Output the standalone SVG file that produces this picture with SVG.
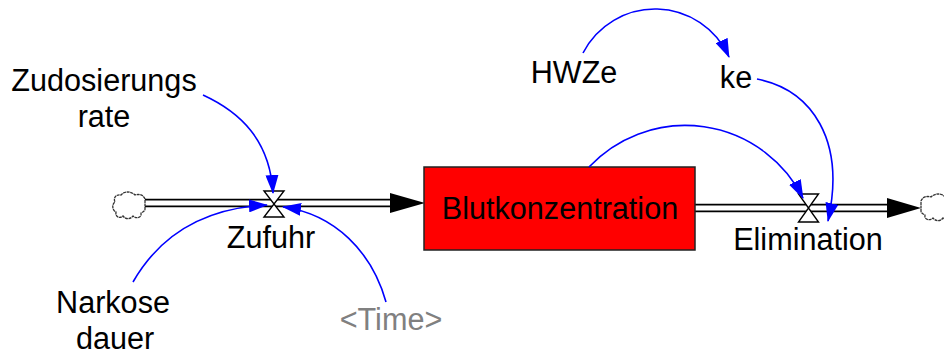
<svg xmlns="http://www.w3.org/2000/svg" width="944" height="356" viewBox="0 0 944 356">
<defs>
<style>
.lbl{font-family:"Liberation Sans",Arial,sans-serif;font-size:30.6px;fill:#000;text-anchor:middle}
.gray{fill:#808080}
.link{fill:none;stroke:#0000FF;stroke-width:1.6}
.pipeO{fill:none;stroke:#000;stroke-width:8.5}
.pipeI{fill:none;stroke:#fff;stroke-width:5}
.valve{fill:#fff;stroke:#000;stroke-width:1.4}
.cloud{fill:#fff;stroke:#333;stroke-width:1.3;stroke-dasharray:3 0.6}
</style>
<marker id="ah" viewBox="0 0 19 13" refX="18" refY="6.5" markerWidth="19" markerHeight="13" orient="auto" markerUnits="userSpaceOnUse"><path d="M0,0 L19,6.5 L0,13 z" fill="#0000FF"/></marker>
<path id="cl" d="M0,-7 C-2,-12 -7,-12 -10,-11 C-14,-15 -21,-15 -24,-11 C-29,-12 -32,-8 -30,-4 C-34,-1 -32,5 -29,6 C-30,11 -25,13 -22,10 C-19,14 -14,13 -12,10 C-9,13 -3,12 -4,7 C-2,6 0,5 0,3 Z"/>
</defs>
<rect width="944" height="356" fill="#fff"/>
<g id="flows">
<line class="pipeO" x1="145" y1="203" x2="392" y2="203"/>
<line class="pipeI" x1="144" y1="203" x2="392" y2="203"/>
<polygon points="390,193 425,203 390,213" fill="#000"/>
<line class="pipeO" x1="695" y1="208" x2="889" y2="208"/>
<line class="pipeI" x1="694" y1="208" x2="889" y2="208"/>
<polygon points="887,198 921,208 887,218" fill="#000"/>
</g>
<g id="cloud-left"><use href="#cl" class="cloud" transform="translate(145,206)"/></g>
<g id="cloud-right"><use href="#cl" class="cloud" transform="translate(921,208) scale(-1,1)"/></g>
<g id="Blutkonzentration">
<rect x="424" y="167" width="271" height="83" fill="#FF0000" stroke="#222" stroke-width="1.5"/>
<text class="lbl" x="560" y="219">Blutkonzentration</text>
</g>
<g id="Zufuhr">
<path class="valve" d="M264,191 L284,191 L264,217 L284,217 Z"/>
<text class="lbl" x="271" y="248">Zufuhr</text>
</g>
<g id="Elimination">
<path class="valve" d="M798.5,194 L818.5,194 L798.5,222 L818.5,222 Z"/>
<text class="lbl" x="808" y="250">Elimination</text>
</g>
<g id="Zudosierungsrate">
<text class="lbl" x="104" y="91">Zudosierungs</text>
<text class="lbl" x="104" y="127">rate</text>
</g>
<g id="Narkosedauer">
<text class="lbl" x="113" y="313">Narkose</text>
<text class="lbl" x="115" y="349">dauer</text>
</g>
<g id="Time"><text class="lbl gray" x="391" y="330">&lt;Time&gt;</text></g>
<g id="HWZe"><text class="lbl" x="574" y="83">HWZe</text></g>
<g id="ke"><text class="lbl" x="736" y="88">ke</text></g>
<g id="connectors">
<path class="link" marker-end="url(#ah)" d="M203,95 C240,112 270,140 273,193"/>
<path class="link" marker-end="url(#ah)" d="M133,282 C160,235 205,208 267,205"/>
<path class="link" marker-end="url(#ah)" d="M386,302 C372,252 335,214 283,207"/>
<path class="link" marker-end="url(#ah)" d="M583,53 A81,81 0 0,1 729,57"/>
<path class="link" marker-end="url(#ah)" d="M757,79 C812,90 846,140 828,221"/>
<path class="link" marker-end="url(#ah)" d="M589,167 A132,132 0 0,1 803,198"/>
</g>
</svg>
